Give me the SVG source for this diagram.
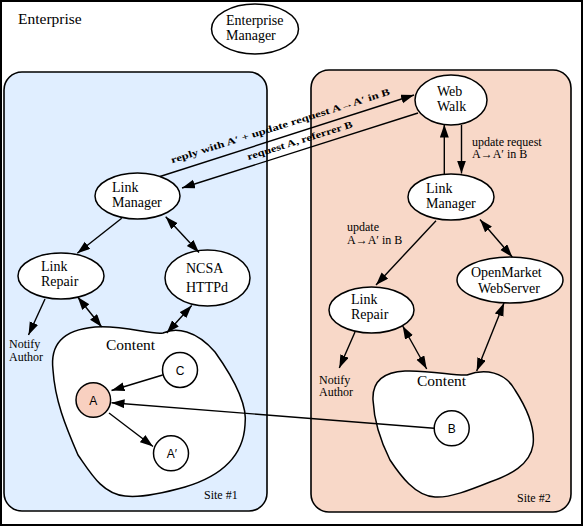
<svg xmlns="http://www.w3.org/2000/svg" width="584" height="527" viewBox="0 0 584 527">
<style>
.lbl{font-family:"Liberation Serif","Times New Roman",serif;font-size:14px;fill:#000}
.big{font-family:"Liberation Serif","Times New Roman",serif;font-size:15.5px;fill:#000}
.sm{font-family:"Liberation Serif","Times New Roman",serif;font-size:12px;fill:#000}
.tl{font-family:"Liberation Serif","Times New Roman",serif;font-size:9.5px;font-weight:bold;fill:#000}
.cl{font-family:"Liberation Sans",Arial,sans-serif;font-size:12px;fill:#000;text-anchor:middle}
.node{fill:#fff;stroke:#000;stroke-width:1.5}
.site{stroke:#000;stroke-width:1.6}
.con{fill:none;stroke:#000;stroke-width:1.4}
.one{marker-end:url(#ah)}
.two{marker-start:url(#ah);marker-end:url(#ah)}
</style>
<defs>
<marker id="ah" markerWidth="14" markerHeight="10" refX="13" refY="4.5" orient="auto-start-reverse" markerUnits="userSpaceOnUse">
<path d="M0,0 L13,4.5 L0,9 Z" fill="#000"/>
</marker>
</defs>
<rect x="0" y="0" width="584" height="527" fill="#fff"/>
<rect x="1" y="1" width="581" height="524" fill="#fff" stroke="#000" stroke-width="2"/>
<text class="big" x="18" y="24">Enterprise</text>

<g id="site1">
<rect class="site" x="4" y="72" width="263" height="439" rx="18" fill="#E0EEFF"/>
<text class="sm" x="204" y="499">Site #1</text>
</g>
<g id="site2">
<rect class="site" x="311" y="70" width="260" height="442" rx="18" fill="#F8D8C8"/>
<text class="sm" x="517" y="502">Site #2</text>
</g>

<g id="enterprise-manager">
<ellipse class="node" cx="255" cy="29" rx="43.5" ry="25"/>
<text class="lbl" x="226" y="24.5">Enterprise</text>
<text class="lbl" x="226" y="39.5">Manager</text>
</g>

<g id="content1">
<path class="node" d="M53,370 C50,345 62,330 95,327 C125,325 150,335 163,333 C176,327 196,330 215,352 C235,380 248,405 245,425 C243,460 215,478 185,487 C160,494 140,498 125,496 C102,494 90,472 78,455 C65,425 55,400 53,370 Z"/>
<text class="big" x="106" y="350">Content</text>
</g>
<g id="content2">
<path class="node" d="M373,400 C372,380 385,372 405,371 C430,370 455,376 467,375 C485,368 505,372 515,390 C528,410 535,430 533,445 C530,465 510,475 490,482 C470,490 450,498 435,497 C415,496 400,475 390,460 C380,440 374,420 373,400 Z"/>
<text class="big" x="417" y="386">Content</text>
</g>

<g id="web-walk">
<ellipse class="node" cx="451" cy="100" rx="36" ry="25"/>
<text class="lbl" x="437" y="96">Web</text>
<text class="lbl" x="437" y="111">Walk</text>
</g>
<g id="link-manager-1">
<ellipse class="node" cx="137.5" cy="196" rx="42.5" ry="23"/>
<text class="lbl" x="112" y="191.5">Link</text>
<text class="lbl" x="112" y="206.5">Manager</text>
</g>
<g id="link-repair-1">
<ellipse class="node" cx="61" cy="276" rx="43" ry="23"/>
<text class="lbl" x="41" y="270.5">Link</text>
<text class="lbl" x="41" y="285.5">Repair</text>
</g>
<g id="ncsa-httpd">
<ellipse class="node" cx="207.5" cy="278" rx="42.5" ry="28"/>
<text class="lbl" x="186" y="273">NCSA</text>
<text class="lbl" x="186" y="292">HTTPd</text>
</g>
<g id="link-manager-2">
<ellipse class="node" cx="451" cy="197" rx="43" ry="23"/>
<text class="lbl" x="426" y="192.5">Link</text>
<text class="lbl" x="426" y="207.5">Manager</text>
</g>
<g id="openmarket">
<ellipse class="node" cx="510" cy="280" rx="53" ry="23"/>
<text class="lbl" x="471" y="277">OpenMarket</text>
<text class="lbl" x="478" y="293">WebServer</text>
</g>
<g id="link-repair-2">
<ellipse class="node" cx="371.5" cy="310" rx="42.5" ry="23"/>
<text class="lbl" x="351" y="303.5">Link</text>
<text class="lbl" x="351" y="318.5">Repair</text>
</g>
<g id="notify1">
<text class="sm" x="9" y="348">Notify</text>
<text class="sm" x="9" y="360.5">Author</text>
</g>
<g id="notify2">
<text class="sm" x="319" y="383.5">Notify</text>
<text class="sm" x="319" y="396">Author</text>
</g>

<g id="node-c">
<circle class="node" cx="180" cy="370" r="17.5"/>
<text class="cl" x="180" y="374.5">C</text>
</g>
<g id="node-a">
<circle cx="93.3" cy="400" r="17.3" fill="#F8D0C0" stroke="#000" stroke-width="1.5"/>
<text class="cl" x="93.3" y="404.5">A</text>
</g>
<g id="node-a-prime">
<circle class="node" cx="171" cy="453.3" r="17.5"/>
<text class="cl" x="172" y="458">A′</text>
</g>
<g id="node-b">
<circle class="node" cx="451.7" cy="428.3" r="17.5"/>
<text class="cl" x="451.7" y="432.8">B</text>
</g>

<g id="connectors">
<path class="con one" d="M121.7,218.3 L77.3,253.3"/>
<path class="con two" d="M165.7,216.7 L199,252.5"/>
<path class="con one" d="M45,299 L28.5,335"/>
<path class="con two" d="M77.7,297 L101.7,327"/>
<path class="con two" d="M191.7,305.5 L166.7,333"/>
<path class="con one" d="M162.7,375 L111.5,390.5"/>
<path class="con one" d="M434,428.3 L111.5,402.7"/>
<path class="con one" d="M109,413 L153,446.5"/>
<path class="con one" d="M444.3,175 L444.3,124.5"/>
<path class="con one" d="M461.5,125 L461.5,173.5"/>
<path class="con one" d="M436,220.7 L376,285"/>
<path class="con two" d="M480,219.5 L512.3,257"/>
<path class="con two" d="M504,303 L476.7,371"/>
<path class="con two" d="M402.7,326 L426.7,369"/>
<path class="con one" d="M355,332 L339.3,368"/>
<path class="con one" d="M160,176.5 L414,95"/>
<path class="con one" d="M418,113 L182,188"/>
<text class="tl" transform="translate(172,163.3) rotate(-17.5)" textLength="229" lengthAdjust="spacingAndGlyphs">reply with A′ + update request A→A′ in B</text>
<text class="tl" transform="translate(248.3,160) rotate(-17.5)" textLength="110" lengthAdjust="spacingAndGlyphs">request A, referrer B</text>
<text class="sm" x="472" y="145.5">update request</text>
<text class="sm" x="472" y="158">A→A′ in B</text>
<text class="sm" x="347" y="230.5">update</text>
<text class="sm" x="347" y="243.5">A→A′ in B</text>
</g>
</svg>
